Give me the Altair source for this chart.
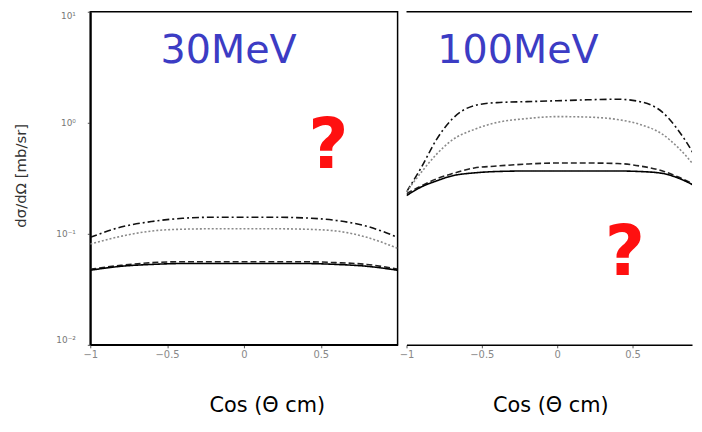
import altair as alt
import pandas as pd

# ---------------- data ----------------
cos_left = [-1, -0.8, -0.6, -0.4, -0.2, 0, 0.2, 0.4, 0.6, 0.8, 1]
left_A = [0.093, 0.115, 0.129, 0.138, 0.141, 0.141, 0.141, 0.139, 0.132, 0.117, 0.093]
left_B = [0.081, 0.095, 0.106, 0.110, 0.111, 0.111, 0.111, 0.110, 0.106, 0.093, 0.074]
left_C = [0.048, 0.052, 0.055, 0.056, 0.056, 0.056, 0.056, 0.056, 0.055, 0.053, 0.048]
left_D = [0.047, 0.051, 0.053, 0.054, 0.054, 0.054, 0.054, 0.054, 0.053, 0.051, 0.047]

cos_right = [-1, -0.9, -0.8, -0.7, -0.55, -0.4, -0.2, 0, 0.2, 0.4, 0.55, 0.7, 0.8, 0.9, 1]
right_A = [0.239, 0.40, 0.71, 1.07, 1.43, 1.52, 1.55, 1.58, 1.61, 1.63, 1.55, 1.24, 0.87, 0.54, 0.30]
right_B = [0.239, 0.361, 0.522, 0.695, 0.872, 1.006, 1.092, 1.137, 1.126, 1.070, 0.966, 0.787, 0.603, 0.425, 0.265]
right_C = [0.230, 0.271, 0.313, 0.347, 0.392, 0.408, 0.425, 0.434, 0.434, 0.430, 0.408, 0.368, 0.326, 0.282, 0.239]
right_D = [0.221, 0.265, 0.300, 0.332, 0.354, 0.364, 0.368, 0.368, 0.368, 0.368, 0.364, 0.350, 0.319, 0.276, 0.225]

series_names = ["A", "B", "C", "D"]
series_colors = ["#111111", "#8a8a8a", "#222222", "#000000"]
series_dash = [[7, 3, 2, 3], [2, 2], [6, 3], [1, 0]]

y_ticks = [0.01, 0.1, 1, 10]
y_tick_labels = ["10⁻²", "10⁻¹", "10⁰", "10¹"]
x_ticks = [-1, -0.5, 0, 0.5]

energy_labels = ["30MeV", "100MeV"]
energy_pos_x = [-0.10, -0.26]
energy_pos_y = [4.4, 4.4]
q_pos_x = [0.55, 0.45]
q_pos_y = [0.60, 0.065]


def long_df(cos, cols):
    rows = []
    for name, vals in zip(series_names, cols):
        for c, v in zip(cos, vals):
            rows.append({"cos": c, "val": v, "series": name})
    return pd.DataFrame(rows)


df_left = long_df(cos_left, [left_A, left_B, left_C, left_D])
df_right = long_df(cos_right, [right_A, right_B, right_C, right_D])

label_expr = " : ".join(
    f"datum.value == {t} ? '{l}'" for t, l in zip(y_ticks, y_tick_labels)
) + " : ''"

color_scale = alt.Scale(domain=series_names, range=series_colors)
dash_scale = alt.Scale(domain=series_names, range=series_dash)


def panel(df, xdomain, width, ylabel_axis, x_title_x, idx):
    y_axis = (
        alt.Axis(
            values=y_ticks,
            labelExpr=label_expr,
            title="dσ/dΩ [mb/sr]",
            titleX=-62,
            titleY=165,
            titleFontSize=15,
            titleFontWeight="normal",
            titleFont="DejaVu Sans",
            titleColor="#333333",
            labelColor="#777777",
            labelFontSize=9,
            labelPadding=12,
            labelFlush=True,
            tickSize=3,
            tickColor="#555555",
            domainColor="#000000",
            domainWidth=2,
            grid=False,
        )
        if ylabel_axis
        else None
    )
    x_axis = alt.Axis(
        values=x_ticks,
        format="",
        title="Cos (Θ cm)",
        titleX=x_title_x,
        titleY=67,
        titleBaseline="alphabetic",
        titleFontSize=21,
        titleFontWeight="normal",
        titleFont="DejaVu Sans",
        titleColor="#000000",
        labelColor="#888888",
        labelFontSize=10,
        tickSize=3,
        tickColor="#555555",
        domainColor="#000000",
        domainWidth=1.5,
        grid=False,
        labelFlush=False,
    )
    x_enc = alt.X("cos:Q", scale=alt.Scale(domain=xdomain, nice=False, zero=False), axis=x_axis)
    y_enc = alt.Y("val:Q", scale=alt.Scale(type="log", domain=[0.01, 10], nice=False), axis=y_axis)
    lines = alt.Chart(df).mark_line(strokeWidth=1.6, interpolate="monotone", clip=True).encode(
        x=x_enc,
        y=y_enc,
        color=alt.Color("series:N", scale=color_scale, legend=None),
        strokeDash=alt.StrokeDash("series:N", scale=dash_scale, legend=None),
        detail="series:N",
    )
    ann = pd.DataFrame(
        {"cos": [energy_pos_x[idx]], "val": [energy_pos_y[idx]], "txt": [energy_labels[idx]]}
    )
    energy = alt.Chart(ann).mark_text(
        fontSize=40, font="DejaVu Sans", color="#3c3cc4", align="center", baseline="middle"
    ).encode(x="cos:Q", y="val:Q", text="txt:N")
    qdf = pd.DataFrame({"cos": [q_pos_x[idx]], "val": [q_pos_y[idx]], "txt": ["?"]})
    qmark = alt.Chart(qdf).mark_text(
        fontSize=70, font="DejaVu Sans", fontWeight="bold", color="#ff1010",
        align="center", baseline="middle"
    ).encode(x="cos:Q", y="val:Q", text="txt:N")
    layers = [lines, energy, qmark]
    if idx == 1:
        top = alt.Chart(pd.DataFrame({"a": [0]})).mark_rule(color="#000000", strokeWidth=1.5).encode(
            y=alt.value(0)
        )
        layers.append(top)
    ch = alt.layer(*layers).properties(width=width, height=336)
    if idx == 1:
        ch = ch.properties(view=alt.ViewBackground(stroke="transparent"))
    else:
        ch = ch.properties(view=alt.ViewBackground(stroke="#000000", strokeWidth=1.5))
    return ch


left = panel(df_left, [-1, 1], 310, True, 178, 0)
right = panel(df_right, [-1, 0.895], 288, False, 145, 1)

chart = (
    alt.hconcat(left, right, spacing=0)
    .properties(padding={"left": 5, "top": 0, "right": 0, "bottom": 0}, background="#ffffff")
    .resolve_scale(x="independent", y="independent", color="shared", strokeDash="shared")
    .configure_axis(labelFont="DejaVu Sans")
)

chart.save("out.html", embed_options={"renderer": "svg", "actions": False})
